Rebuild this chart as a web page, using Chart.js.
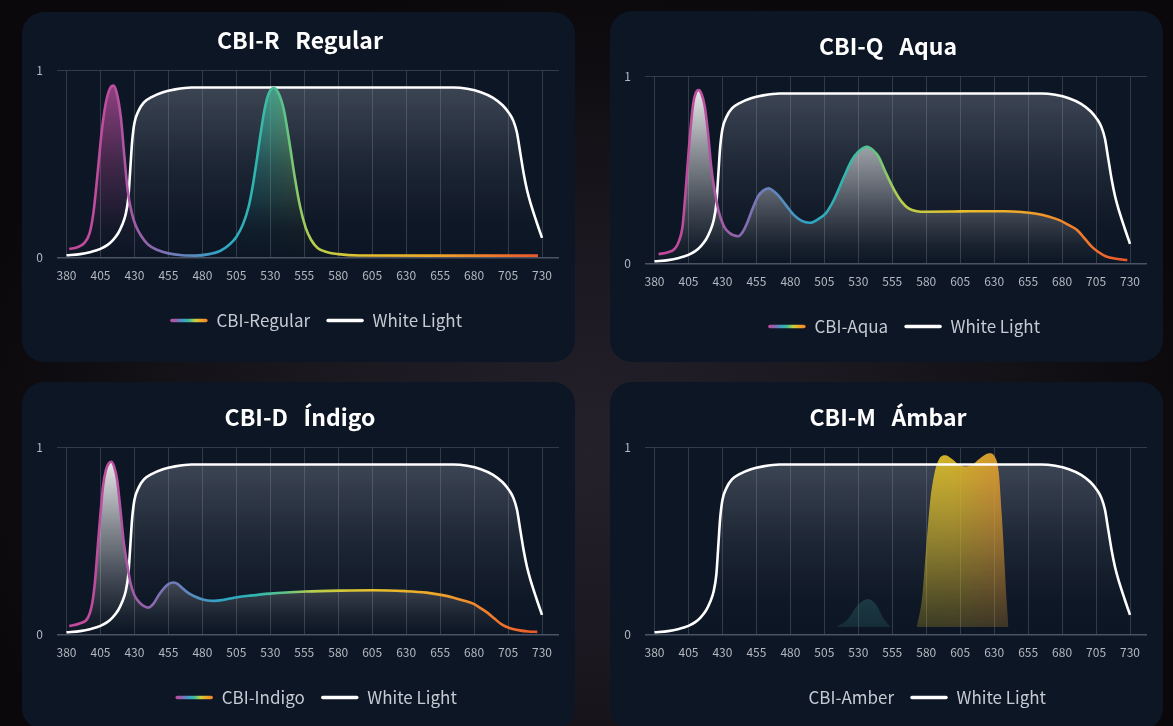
<!DOCTYPE html>
<html>
<head>
<meta charset="utf-8">
<script src="https://cdn.jsdelivr.net/npm/chart.js@4.4.1/dist/chart.umd.min.js"></script>
<style>
  html, body {
    margin: 0;
    width: 1173px;
    height: 726px;
    overflow: hidden;
    background: radial-gradient(ellipse 55% 65% at 50% 62%, #24212b 0%, #1a171f 45%, #0b080b 100%);
  }
  .card { position: absolute; background: #0d1624; border-radius: 22px; }
  canvas { position: absolute; }
</style>
</head>
<body>
<div class="card" style="left:22px;top:12px;width:553px;height:350px"></div>
<div class="card" style="left:610px;top:11px;width:553px;height:351px"></div>
<div class="card" style="left:22px;top:382px;width:553px;height:348px"></div>
<div class="card" style="left:610px;top:382px;width:553px;height:348px"></div>

<canvas id="chart-regular" width="553" height="340" style="left:22px;top:5px"></canvas>
<canvas id="chart-aqua" width="553" height="340" style="left:610px;top:11px"></canvas>
<canvas id="chart-indigo" width="553" height="340" style="left:22px;top:382px"></canvas>
<canvas id="chart-amber" width="553" height="340" style="left:610px;top:382px"></canvas>

<script>
// ── Data (wavelength nm / relative intensity) ───────────────────

const TICKS_NM = [380, 405, 430, 455, 480, 505, 530, 555, 580, 605, 630, 655, 680, 705, 730];

const WHITE_NM  = [380, 390, 398, 405, 410, 414, 418, 421, 423.5, 425.5, 427, 428.3, 430, 433, 437, 443, 451, 460, 472, 560, 665, 675, 685, 694, 701, 706, 709, 711.5, 714, 716.5, 719, 722, 726, 730];
const WHITE_VAL = [0.012, 0.018, 0.03, 0.046, 0.066, 0.092, 0.13, 0.175, 0.23, 0.32, 0.48, 0.62, 0.72, 0.785, 0.83, 0.86, 0.885, 0.9, 0.91, 0.91, 0.91, 0.903, 0.885, 0.855, 0.815, 0.77, 0.73, 0.67, 0.56, 0.45, 0.36, 0.28, 0.19, 0.105];

const REGULAR_NM  = [382, 388, 393, 397, 400, 403, 406, 409, 412, 414.5, 417, 420, 422.5, 425, 428, 431, 435, 440, 447, 455, 465, 475, 485, 493, 500, 505, 510, 514, 517, 520, 523, 526, 529, 532.5, 536, 540, 544, 548, 552, 556, 560, 565, 572, 580, 595, 650, 727];
const REGULAR_VAL = [0.045, 0.055, 0.077, 0.13, 0.25, 0.46, 0.68, 0.83, 0.905, 0.92, 0.88, 0.75, 0.55, 0.36, 0.24, 0.17, 0.115, 0.07, 0.04, 0.022, 0.012, 0.01, 0.018, 0.035, 0.07, 0.11, 0.18, 0.27, 0.38, 0.52, 0.67, 0.8, 0.88, 0.907, 0.88, 0.79, 0.62, 0.43, 0.27, 0.16, 0.095, 0.05, 0.028, 0.018, 0.011, 0.01, 0.01];

const AQUA_NM  = [383, 390, 395, 398, 400.6, 402.5, 404.6, 406.5, 408.5, 410.5, 412.5, 414.5, 417, 419.5, 421.7, 424, 427, 431, 435, 441.6, 445, 448, 452, 456, 460, 464, 468, 472, 477, 482.5, 488, 494.4, 500, 506, 512, 519.5, 525, 530, 536.6, 541, 545, 550, 556.5, 562, 567, 573, 580, 600, 612, 638, 650, 660, 670, 678, 685, 691, 697, 702, 707, 712, 720, 728];
const AQUA_VAL = [0.05, 0.06, 0.08, 0.12, 0.196, 0.35, 0.55, 0.72, 0.857, 0.915, 0.929, 0.91, 0.84, 0.69, 0.52, 0.4, 0.286, 0.2, 0.165, 0.146, 0.17, 0.214, 0.29, 0.357, 0.39, 0.402, 0.385, 0.357, 0.31, 0.26, 0.23, 0.218, 0.235, 0.268, 0.34, 0.464, 0.55, 0.598, 0.625, 0.605, 0.571, 0.49, 0.393, 0.33, 0.295, 0.28, 0.277, 0.278, 0.28, 0.28, 0.276, 0.268, 0.252, 0.232, 0.205, 0.179, 0.13, 0.089, 0.06, 0.039, 0.025, 0.018];

const INDIGO_NM  = [382, 390, 395.8, 399, 401, 403, 405, 407, 409, 411, 413, 415, 417.3, 419.5, 422, 424.5, 427.3, 430, 433.8, 437, 440.4, 444, 448.3, 452, 455, 458.8, 462, 465, 469.3, 474, 479.7, 484, 488.9, 495, 503.4, 515, 529.7, 555.9, 582.1, 605.8, 629.4, 645, 655.6, 665, 672, 679.3, 685, 689.8, 695, 700.3, 706, 713.4, 720, 726.5];
const INDIGO_VAL = [0.045, 0.06, 0.09, 0.17, 0.287, 0.47, 0.646, 0.8, 0.88, 0.915, 0.925, 0.9, 0.826, 0.68, 0.503, 0.38, 0.27, 0.21, 0.17, 0.152, 0.144, 0.165, 0.215, 0.25, 0.27, 0.278, 0.27, 0.25, 0.224, 0.205, 0.189, 0.182, 0.18, 0.185, 0.197, 0.208, 0.219, 0.23, 0.235, 0.237, 0.232, 0.224, 0.212, 0.197, 0.182, 0.165, 0.14, 0.117, 0.085, 0.054, 0.035, 0.022, 0.016, 0.014];

// faint green bump, gap, then the amber band
const AMBER_NM  = [514, 522, 530, 537, 543, 549, 554, 563, 573, 577, 580, 583, 586, 589.5, 594, 599, 604, 609, 614, 619, 626.5, 631, 633.5, 635.5, 637, 639, 640.5];
const AMBER_VAL = [0.04, 0.08, 0.16, 0.19, 0.16, 0.08, 0.04, null, 0.04, 0.2, 0.47, 0.72, 0.86, 0.94, 0.96, 0.94, 0.91, 0.9, 0.91, 0.94, 0.97, 0.945, 0.86, 0.65, 0.47, 0.2, 0.04];

// ── Styling ────────────────────────────────────────────────────

Chart.defaults.font.family = "'Noto Sans CJK SC', 'Noto Sans', sans-serif";

const SPECTRUM = [[380, '#c4479c'], [415, '#bc4f9f'], [440, '#9065ad'], [465, '#6683bd'], [495, '#2fa5c6'], [520, '#2fb6ae'],
  [540, '#5cc38a'], [560, '#b4cf4e'], [600, '#e6c22d'], [650, '#efa72a'], [690, '#f07e2c'], [730, '#ec5429']];
const LEGEND_SPECTRUM = ['#c4479c', '#9065ad', '#3f9bc8', '#3dbb9a', '#c9cf3c', '#f0a52a', '#f07e2c'];
const AMBER_COLORS = [[505, 'rgb(50,118,118)'], [558, 'rgb(50,118,118)'], [568, 'rgb(212,186,44)'], [600, 'rgb(216,182,42)'], [640, 'rgb(222,150,48)']];

const GRID = 'rgba(255,255,255,0.16)';
const AXIS = '#4b5263';
const TICK = '#b3b8c1';

function toPoints(nm, val) {
  return nm.map((x, i) => ({ x, y: val[i] }));
}

function xStops(chart, stops) {
  const x = chart.scales.x;
  const span = x.right - x.left;
  return stops.map(([nm, c]) => [Math.min(1, Math.max(0, (x.getPixelForValue(nm) - x.left) / span)), c]);
}

function spectrumStroke(context) {
  const chart = context.chart;
  if (!chart.chartArea) return null;
  const x = chart.scales.x;
  const g = chart.ctx.createLinearGradient(x.left, 0, x.right, 0);
  xStops(chart, SPECTRUM).forEach(([p, c]) => g.addColorStop(p, c));
  return g;
}

// vertical alpha ramp of one colour; fade = [[pos 0..1 top→bottom, alpha]]
function verticalFill(rgb, fade) {
  return (context) => {
    const { chart } = context;
    const a = chart.chartArea;
    if (!a) return null;
    const g = chart.ctx.createLinearGradient(0, a.top, 0, a.bottom);
    fade.forEach(([p, al]) => g.addColorStop(p, `rgba(${rgb},${al})`));
    return g;
  };
}

// colour runs along x, alpha fades down: painted once into a pattern
function fadedFill(stops, fade) {
  let cache = null, cacheKey = '';
  return (context) => {
    const { chart } = context;
    const a = chart.chartArea;
    if (!a) return null;
    const key = [a.left, a.top, a.right, a.bottom].join(',');
    if (cache && key === cacheKey) return cache;
    const off = document.createElement('canvas');
    off.width = chart.width;
    off.height = chart.height;
    const c = off.getContext('2d');
    const h = c.createLinearGradient(chart.scales.x.left, 0, chart.scales.x.right, 0);
    xStops(chart, stops).forEach(([p, col]) => h.addColorStop(p, col));
    c.fillStyle = h;
    c.fillRect(a.left, a.top, a.right - a.left, a.bottom - a.top);
    c.globalCompositeOperation = 'destination-in';
    const v = c.createLinearGradient(0, a.top, 0, a.bottom);
    fade.forEach(([p, al]) => v.addColorStop(p, `rgba(0,0,0,${al})`));
    c.fillStyle = v;
    c.fillRect(a.left, a.top, a.right - a.left, a.bottom - a.top);
    cache = chart.ctx.createPattern(off, 'no-repeat');
    cacheKey = key;
    return cache;
  };
}

const WHITE_FILL = verticalFill('150,158,175', [[0, 0.36], [0.1, 0.34], [0.5, 0.12], [0.8, 0.02], [1, 0]]);
const GLOW_FILL = [[0, 1], [0.07, 0.9], [0.4, 0.52], [0.7, 0.22], [0.9, 0.05], [1, 0]];

// title/legend nudged right like the original; legend samples drawn
// as rounded lines over the (transparent) legend boxes
const swatchPlugin = {
  id: 'swatches',
  afterLayout(chart, args, opts) {
    if (chart.titleBlock) {
      chart.titleBlock.left += opts.titleShift;
      chart.titleBlock.right += opts.titleShift;
    }
    if (chart.legend) {
      chart.legend.left += opts.legendShift;
      chart.legend.right += opts.legendShift;
    }
  },
  afterDraw(chart, args, opts) {
    const lg = chart.legend;
    if (!lg) return;
    const { ctx } = chart;
    const bw = lg.options.labels.boxWidth;
    lg.legendHitBoxes.forEach((hb, i) => {
      const kind = opts.kinds[i];
      if (!kind) return;
      const y = hb.top + hb.height / 2;
      ctx.save();
      ctx.lineWidth = 3.5;
      ctx.lineCap = 'round';
      if (kind === 'spectrum') {
        const g = ctx.createLinearGradient(hb.left, 0, hb.left + bw, 0);
        LEGEND_SPECTRUM.forEach((c, j, arr) => g.addColorStop(j / (arr.length - 1), c));
        ctx.strokeStyle = g;
      } else {
        ctx.strokeStyle = '#ffffff';
      }
      ctx.beginPath();
      ctx.moveTo(hb.left + 2, y);
      ctx.lineTo(hb.left + bw - 2, y);
      ctx.stroke();
      ctx.restore();
    });
  },
};

// ── Charts ─────────────────────────────────────────────────────

function makeChart(id, title, cbi) {
  const ds = {
    label: cbi.label,
    data: toPoints(cbi.nm, cbi.val),
    borderColor: cbi.stroke ? spectrumStroke : 'rgba(0,0,0,0)',
    borderWidth: cbi.stroke ? 2.6 : 0,
    backgroundColor: cbi.fill,
    fill: cbi.base != null ? { value: cbi.base } : 'origin',
    cubicInterpolationMode: 'monotone',
    spanGaps: false,
    pointRadius: 0,
    pointHoverRadius: 0,
  };
  const white = {
    label: 'White Light',
    data: toPoints(WHITE_NM, WHITE_VAL),
    borderColor: '#ffffff',
    borderWidth: 2.6,
    backgroundColor: WHITE_FILL,
    fill: 'origin',
    cubicInterpolationMode: 'monotone',
    pointRadius: 0,
    pointHoverRadius: 0,
  };

  return new Chart(document.getElementById(id), {
    type: 'line',
    data: { datasets: [ds, white] },
    options: {
      responsive: false,
      animation: false,
      events: [],
      layout: { padding: { left: 12, right: 16, top: 0, bottom: 6 } },
      scales: {
        x: {
          type: 'linear',
          min: 373,
          max: 742.5,
          afterBuildTicks: (s) => { s.ticks = TICKS_NM.map((v) => ({ value: v })); },
          afterFit: (s) => { s.height = 38.5; },
          ticks: { color: TICK, font: { size: 12 }, padding: 11, maxRotation: 0, autoSkip: false, callback: (v) => String(v) },
          grid: { color: GRID, drawTicks: false },
          border: { display: false },
        },
        y: {
          min: 0,
          max: 1,
          afterBuildTicks: (s) => { s.ticks = [{ value: 0 }, { value: 1 }]; },
          afterFit: (s) => { s.width = 23; },
          ticks: { color: TICK, font: { size: 12 }, padding: 14 },
          grid: {
            color: (c) => (c.tick && c.tick.value === 0 ? AXIS : GRID),
            lineWidth: (c) => (c.tick && c.tick.value === 0 ? 1.6 : 1),
            drawTicks: false,
          },
          border: { display: false },
        },
      },
      plugins: {
        filler: { drawTime: 'beforeDatasetsDraw' },
        title: {
          display: true,
          text: title,
          color: '#ffffff',
          font: { size: 23, weight: 'bold' },
          padding: { top: 21.2, bottom: 16.9 },
        },
        legend: {
          position: 'bottom',
          labels: {
            boxWidth: 38,
            boxHeight: 3,
            padding: 16,
            color: '#c5cad3',
            font: { size: 17 },
            generateLabels: (chart) => chart.data.datasets.map((d, i) => ({
              text: d.label,
              fillStyle: 'rgba(0,0,0,0)',
              strokeStyle: 'rgba(0,0,0,0)',
              lineWidth: 0,
              fontColor: '#c5cad3',
              hidden: false,
              datasetIndex: i,
            })),
          },
        },
        tooltip: { enabled: false },
        swatches: { kinds: [cbi.swatch, 'white'], titleShift: 3.5, legendShift: 19.5 },
      },
    },
    plugins: [swatchPlugin],
  });
}

makeChart('chart-regular', 'CBI-R   Regular', {
  label: 'CBI-Regular', nm: REGULAR_NM, val: REGULAR_VAL, stroke: true, swatch: 'spectrum',
  fill: fadedFill(SPECTRUM, [[0, 0.8], [0.1, 0.72], [0.5, 0.3], [0.85, 0.04], [1, 0]]),
});
makeChart('chart-aqua', 'CBI-Q   Aqua', {
  label: 'CBI-Aqua', nm: AQUA_NM, val: AQUA_VAL, stroke: true, swatch: 'spectrum',
  fill: verticalFill('255,255,255', GLOW_FILL),
});
makeChart('chart-indigo', 'CBI-D   Índigo', {
  label: 'CBI-Indigo', nm: INDIGO_NM, val: INDIGO_VAL, stroke: true, swatch: 'spectrum',
  fill: verticalFill('255,255,255', GLOW_FILL),
});
makeChart('chart-amber', 'CBI-M   Ámbar', {
  label: 'CBI-Amber', nm: AMBER_NM, val: AMBER_VAL, stroke: false, swatch: null, base: 0.04,
  fill: fadedFill(AMBER_COLORS, [[0, 1], [0.5, 0.62], [1, 0.2]]),
});
</script>
</body>
</html>
